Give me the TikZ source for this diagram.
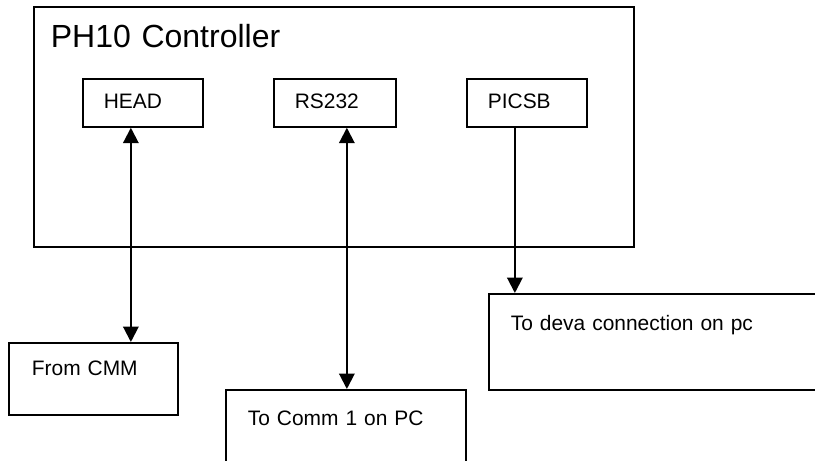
\documentclass[tikz,border=0pt]{standalone}
\usepackage{fontspec}
\setmainfont{Liberation Sans}
\usetikzlibrary{arrows.meta}

\begin{document}
\begin{tikzpicture}[x=0.75pt,y=-0.75pt]
        \tikzset{box/.style={draw,line width=1.3pt,anchor=north west,align=left,inner ysep=0pt},
          port/.style={box,inner xsep=15.75pt,text width=58.5pt,text height=22.5pt,text depth=13.5pt,
            font=\fontsize{15.7pt}{18pt}\selectfont},
          far/.style={box,font=\fontsize{15.7pt}{18pt}\selectfont},
          link/.style={line width=1.5pt,-{Triangle[width=11.5pt,length=11.5pt]}},
          both/.style={link,{Triangle[width=11.5pt,length=11.5pt]}-{Triangle[width=11.5pt,length=11.5pt]}}}
          \clip (0,0) rectangle (815,461);
          \node[box,inner xsep=12.75pt,text width=424.5pt,text height=30.75pt,text depth=149.25pt,
            font=\fontsize{24pt}{28pt}\selectfont] (ctrl) at (33,6) {PH10 Controller};
          \node[port] (head) at (82,78) {HEAD};
          \node[port,text width=60pt] (rs) at (273,78) {RS232};
          \node[port] (picsb) at (466,78) {PICSB};
          \node[far,inner xsep=17.25pt,text width=92.25pt,text height=24.75pt,text depth=29.25pt]
            (cmm) at (8,342) {From CMM};
          \node[far,inner xsep=16.5pt,text width=147pt,text height=27pt,text depth=48pt]
            (comm) at (225,389) {To Comm 1 on PC};
          \node[far,inner xsep=16.5pt,text width=222pt,text height=27.75pt,text depth=44.25pt]
            (deva) at (488,293) {To deva connection on pc};
          \draw[both] ([xshift=-9pt]head.south) -- ([xshift=-9pt]head.south |- cmm.north);
          \draw[both] ([xshift=9pt]rs.south) -- ([xshift=9pt]rs.south |- comm.north);
          \draw[link] ([xshift=-9pt]picsb.south) -- ([xshift=-9pt]picsb.south |- deva.north);
      \end{tikzpicture}
\end{document}
